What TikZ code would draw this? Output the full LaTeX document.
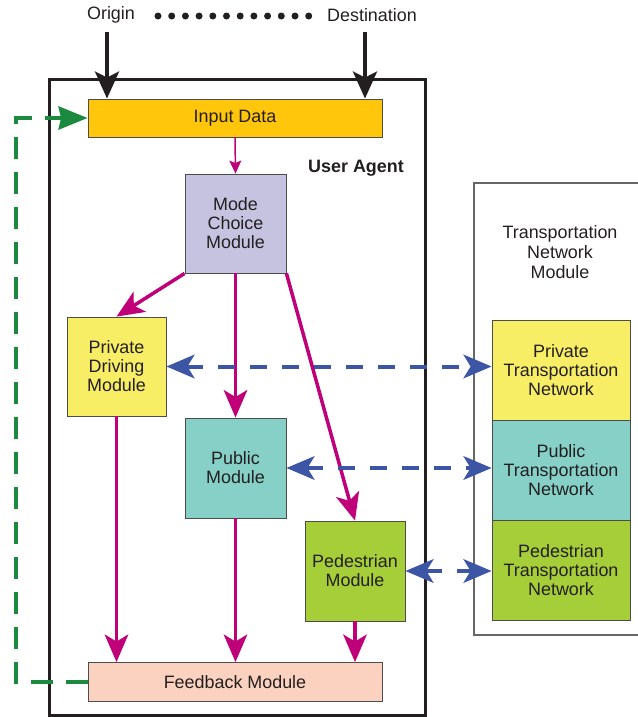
\documentclass[tikz,border=0pt]{standalone}
\usepackage{fontspec}
\setmainfont{Liberation Sans}
\usepackage{xcolor}
\usetikzlibrary{arrows.meta}

\definecolor{txt}{HTML}{231F20}
\definecolor{inputc}{HTML}{FFC60B}
\definecolor{modec}{HTML}{C6C3E1}
\definecolor{privc}{HTML}{F8EE66}
\definecolor{pubc}{HTML}{86D0C8}
\definecolor{pedc}{HTML}{A6CE39}
\definecolor{feedc}{HTML}{FBD2BF}
\definecolor{magc}{HTML}{BF0079}
\definecolor{bluec}{HTML}{3D55A5}
\definecolor{greenc}{HTML}{1B8A3F}

\begin{document}
\begin{tikzpicture}[x=0.02cm, y=-0.02cm, font=\fontsize{10.2}{10.8}\selectfont, text=txt,
  box/.style={draw=black!70, line width=0.5pt, align=center, inner sep=0pt},
  modarrow/.style={-{Stealth[length=0.55cm, width=0.47cm, inset=0.14cm]}, line width=0.07cm, magc},
  netarrow/.style={{Stealth[length=0.56cm, width=0.47cm, inset=0.14cm]}-{Stealth[length=0.56cm, width=0.47cm, inset=0.14cm]},
    line width=0.08cm, bluec, dash pattern=on 0.34cm off 0.3cm},
  odarrow/.style={-{Stealth[length=0.54cm, width=0.48cm, inset=0.12cm]}, line width=0.08cm, txt}]
\useasboundingbox (0,0) rectangle (638,717);
% рамки
\draw [txt, line width=0.06cm] (49,79) rectangle (425,715);
\draw [black!60, line width=0.6pt] (474,183) rectangle (645,635);
% подписи
\node (origin) at (111,15) {Origin};
\node (dest) at (372,15) {Destination};
\foreach \i in {0,...,11}
  \fill [txt] (158+\i*13.7,16) circle [radius=0.07cm];
\node [font=\fontsize{10.2}{11.3}\selectfont\bfseries] (agent) at (356,168) {User Agent};
\node [align=center, font=\fontsize{10.2}{11.3}\selectfont] (tnm) at (560,252) {Transportation\\Network\\Module};
% блоки
\node [box, fill=inputc, minimum width=5.88cm, minimum height=0.76cm] (input) at (235,118) {Input Data};
\node [box, fill=modec, minimum width=2.02cm, minimum height=1.98cm] (mode) at (235.5,223.5) {Mode\\Choice\\Module};
\node [box, fill=privc, minimum width=1.98cm, minimum height=1.98cm] (priv) at (116.5,366.5) {Private\\Driving\\Module};
\node [box, fill=pubc, minimum width=2.02cm, minimum height=2cm] (pub) at (235.5,468) {Public\\Module};
\node [box, fill=pedc, minimum width=2cm, minimum height=2cm] (ped) at (355,571) {Pedestrian\\Module};
\node [box, fill=feedc, minimum width=5.88cm, minimum height=0.78cm] (feed) at (235,682) {Feedback Module};
\node [box, fill=privc, minimum width=2.76cm, minimum height=2cm] (privnet) at (561,370) {Private\\Transportation\\Network};
\node [box, fill=pubc, minimum width=2.76cm, minimum height=2cm] (pubnet) at (561,470) {Public\\Transportation\\Network};
\node [box, fill=pedc, minimum width=2.76cm, minimum height=2cm] (pednet) at (561,570) {Pedestrian\\Transportation\\Network};
% стрелки сверху
\coordinate (o1) at (107,32);
\coordinate (d1) at (365,32);
\draw [odarrow] (o1) -- (o1 |- input.north);
\draw [odarrow] (d1) -- (d1 |- input.north);
\draw [-{Stealth[length=0.26cm, width=0.24cm, inset=0.05cm]}, line width=0.03cm, magc] (input.south) -- (mode.north);
% стрелки модулей
\draw [modarrow] (mode.south west) -- (priv.north);
\draw [modarrow] (mode.south) -- (pub.north);
\draw [modarrow] (mode.south east) -- (ped.north);
\draw [modarrow] (priv.south) -- (priv.south |- feed.north);
\draw [modarrow] (pub.south) -- (pub.south |- feed.north);
\draw [modarrow] (ped.south) -- (ped.south |- feed.north);
% сети
\draw [netarrow] (priv.east) -- (priv.east -| privnet.west);
\draw [netarrow] (pub.east) -- (pub.east -| pubnet.west);
\draw [netarrow] (ped.east) -- (ped.east -| pednet.west);
% обратная связь
\coordinate (gl) at (16,118);
\draw [-{Stealth[length=0.58cm, width=0.46cm, inset=0.05cm]}, line width=0.08cm, greenc, dash pattern=on 0.44cm off 0.26cm]
  (feed.west) -- (feed.west -| gl) -- (gl) -- (input.west);
\end{tikzpicture}
\end{document}
